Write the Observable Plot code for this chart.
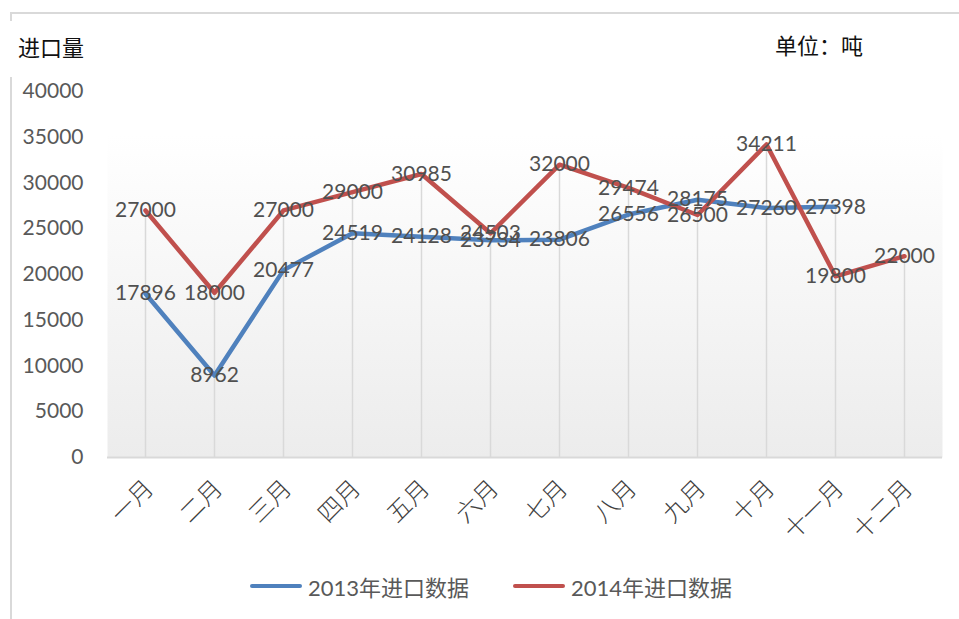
<!DOCTYPE html>
<html>
<head>
<meta charset="utf-8">
<script src="https://cdn.jsdelivr.net/npm/d3@7"></script>
<script src="https://cdn.jsdelivr.net/npm/@observablehq/plot@0.6"></script>
<style>
  html, body { margin: 0; padding: 0; background: #fff; }
  #wrap { position: relative; width: 959px; height: 619px; overflow: hidden; font-family: Lato, "Noto Sans CJK SC", sans-serif; }
  #chart { position: absolute; left: 0; top: 0; }
  .abs { position: absolute; white-space: nowrap; }
  .title { font-family: "Noto Sans CJK SC", sans-serif; font-size: 22px; color: #111; }
  .legend { font-family: Lato, "Noto Sans CJK SC", sans-serif; font-size: 22px; color: #595959; display: flex; align-items: center; }
  .sw { display: inline-block; width: 52px; height: 4px; border-radius: 2px; margin-right: 6px; }
  .frameTop { left: 10px; top: 12px; width: 949px; height: 2px; background: #d9d9d9; }
  .frameLeftA { left: 10px; top: 12px; width: 2px; height: 9px; background: #d9d9d9; }
  .frameLeftB { left: 10px; top: 77px; width: 2px; height: 542px; background: #d9d9d9; }
</style>
</head>
<body>
<div id="wrap">
  <div class="abs frameTop"></div>
  <div class="abs frameLeftA"></div>
  <div class="abs frameLeftB"></div>
  <div id="chart"></div>
  <div class="abs title" style="left:18px; top:30px;">进口量</div>
  <div class="abs title" style="left:775px; top:28px;">单位：吨</div>
  <div class="abs legend" style="left:250px; top:570px;"><span class="sw" style="background:#4F81BD"></span>2013年进口数据</div>
  <div class="abs legend" style="left:513px; top:570px;"><span class="sw" style="background:#C0504D"></span>2014年进口数据</div>
</div>
<script>
const months = ["一月","二月","三月","四月","五月","六月","七月","八月","九月","十月","十一月","十二月"];
const imports2013 = [17896, 8962, 20477, 24519, 24128, 23734, 23806, 26556, 28175, 27260, 27398, null];
const imports2014 = [27000, 18000, 27000, 29000, 30985, 24503, 32000, 29474, 26500, 34211, 19800, 22000];
const yTicks = [0, 5000, 10000, 15000, 20000, 25000, 30000, 35000, 40000];

const s2013 = months.map((m, i) => ({month: m, value: imports2013[i]})).filter(d => d.value != null);
const s2014 = months.map((m, i) => ({month: m, value: imports2014[i]})).filter(d => d.value != null);
const drops = months.map((m, i) => ({month: m, value: Math.max(imports2013[i] ?? 0, imports2014[i] ?? 0)}));

const chart = Plot.plot({
  width: 959,
  height: 619,
  marginLeft: 107,
  marginRight: 17,
  marginTop: 91,
  marginBottom: 162,
  style: {background: "transparent", fontFamily: "Lato, 'Noto Sans CJK SC', sans-serif"},
  x: {type: "point", domain: months, padding: 0.5},
  y: {domain: [0, 40000]},
  marks: [
    Plot.frame({fill: "url(#bgGrad)", stroke: null}),
    Plot.ruleX(drops, {x: "month", y1: 0, y2: "value", stroke: "#d9d9d9", strokeWidth: 1.5}),
    Plot.ruleY([0], {stroke: "#d9d9d9", strokeWidth: 2}),
    Plot.axisY({ticks: yTicks, tickSize: 0, tickPadding: 24, fontSize: 21, label: null, fill: "#595959", tickFormat: d => String(d)}),
    Plot.axisX({tickSize: 0, tickRotate: -45, tickPadding: 27, dx: 4, fontSize: 24, label: null, fill: "#404040", fontFamily: "'Noto Sans CJK SC', sans-serif", fontWeight: 300}),
    Plot.line(s2013, {x: "month", y: "value", stroke: "#4F81BD", strokeWidth: 4.5, strokeLinejoin: "round", strokeLinecap: "round"}),
    Plot.line(s2014, {x: "month", y: "value", stroke: "#C0504D", strokeWidth: 4.5, strokeLinejoin: "round", strokeLinecap: "round"}),
    Plot.text(s2013, {x: "month", y: "value", text: d => String(d.value), fontSize: 21, fill: "#505050"}),
    Plot.text(s2014, {x: "month", y: "value", text: d => String(d.value), fontSize: 21, fill: "#505050"})
  ]
});

const defs = d3.select(chart).insert("defs", ":first-child");
const g = defs.append("linearGradient").attr("id", "bgGrad").attr("x1", 0).attr("y1", 0).attr("x2", 0).attr("y2", 1);
g.append("stop").attr("offset", "0%").attr("stop-color", "#ffffff");
g.append("stop").attr("offset", "12%").attr("stop-color", "#ffffff");
g.append("stop").attr("offset", "100%").attr("stop-color", "#ececec");

document.getElementById("chart").appendChild(chart);
</script>
</body>
</html>
